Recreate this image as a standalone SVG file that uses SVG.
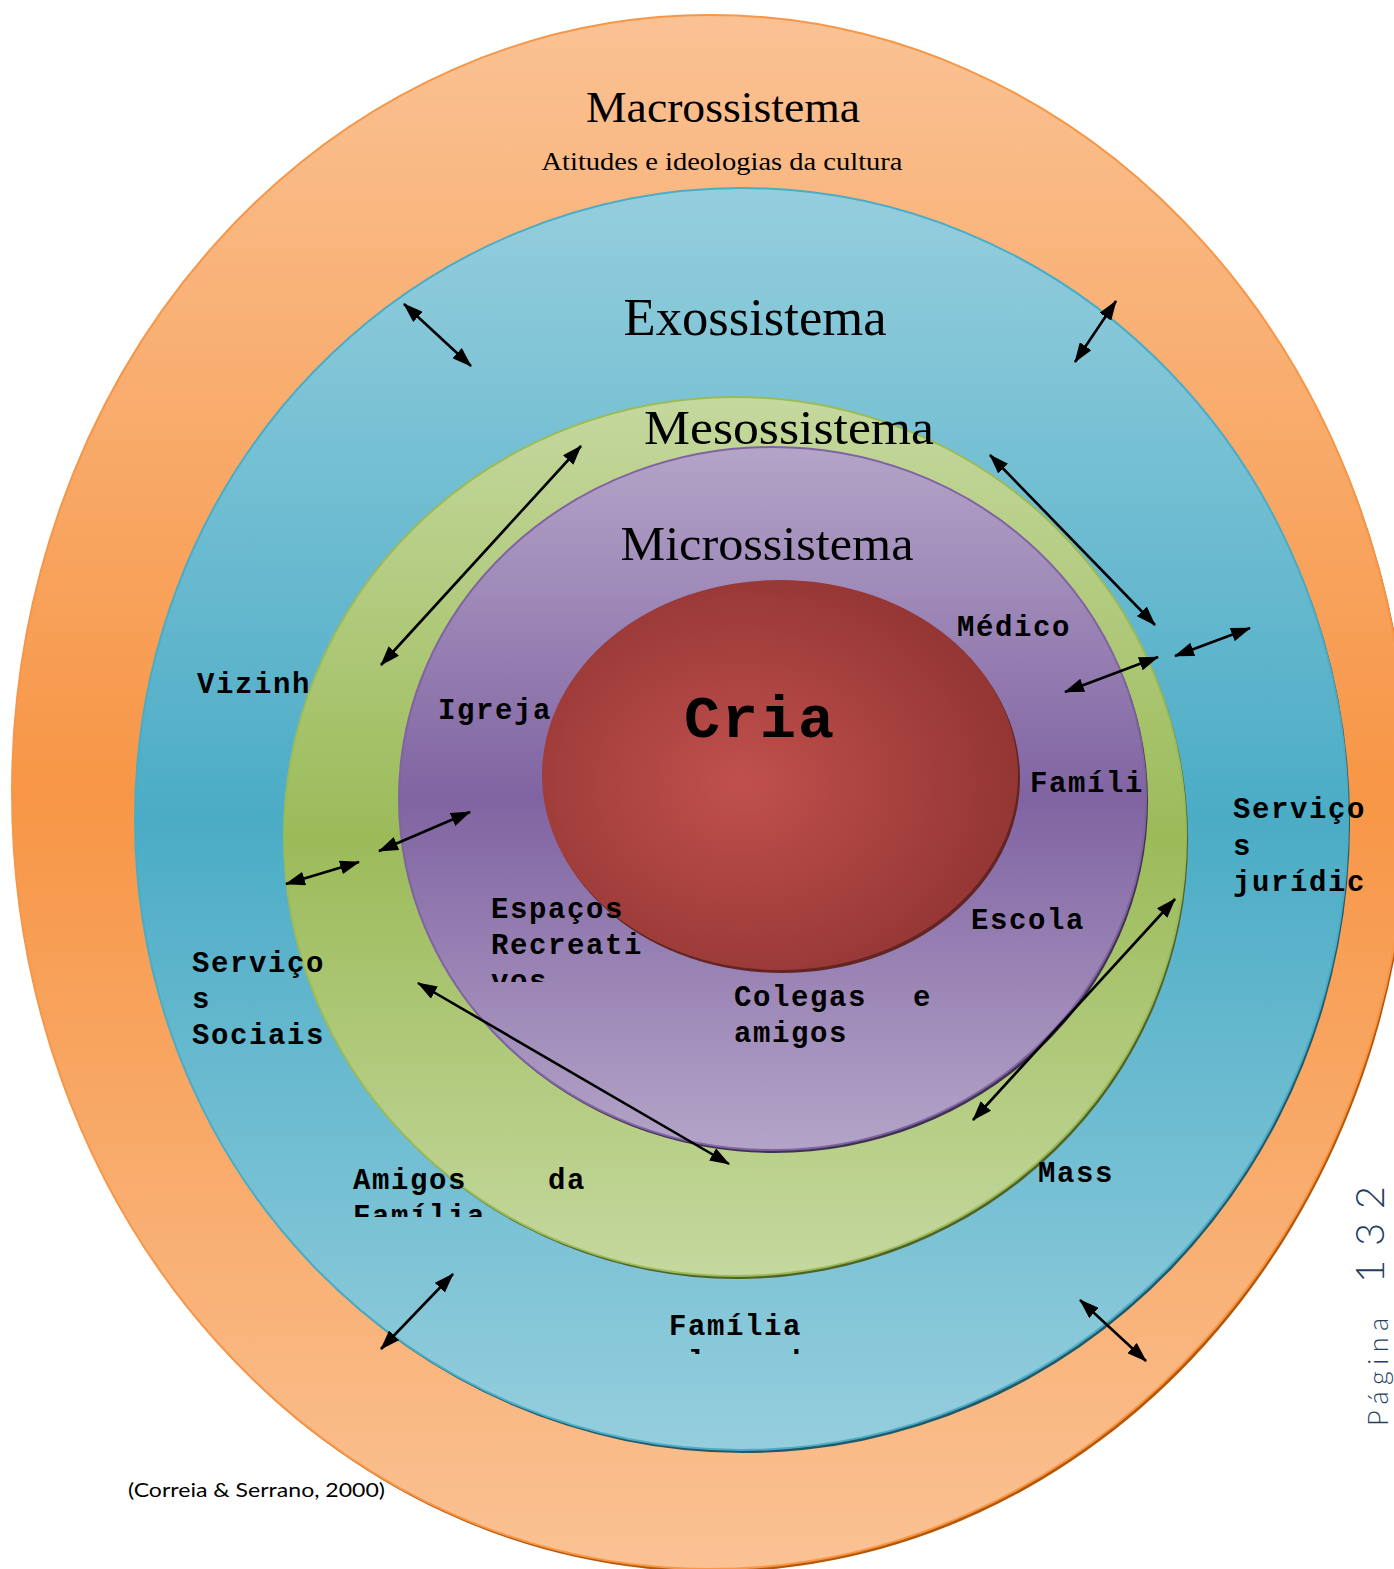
<svg xmlns="http://www.w3.org/2000/svg" width="1394" height="1569" viewBox="0 0 1394 1569">
<defs>
<linearGradient id="gOrange" x1="0" y1="0" x2="0" y2="1"><stop offset="0" stop-color="#FAC294"/><stop offset="0.5" stop-color="#F79646"/><stop offset="1" stop-color="#FAC294"/></linearGradient>
<linearGradient id="gBlue" x1="0" y1="0" x2="0" y2="1"><stop offset="0" stop-color="#95CEDD"/><stop offset="0.5" stop-color="#4BACC6"/><stop offset="1" stop-color="#95CEDD"/></linearGradient>
<linearGradient id="gGreen" x1="0" y1="0" x2="0" y2="1"><stop offset="0" stop-color="#C5D89E"/><stop offset="0.5" stop-color="#9BBB59"/><stop offset="1" stop-color="#C5D89E"/></linearGradient>
<linearGradient id="gPurple" x1="0" y1="0" x2="0" y2="1"><stop offset="0" stop-color="#B4A4C8"/><stop offset="0.5" stop-color="#8064A2"/><stop offset="1" stop-color="#B4A4C8"/></linearGradient>
<radialGradient id="gRed" cx="0.42" cy="0.52" r="0.6"><stop offset="0" stop-color="#C0504D"/><stop offset="1" stop-color="#923533"/></radialGradient>
<marker id="ah" markerUnits="userSpaceOnUse" viewBox="0 0 20 14" refX="19" refY="7" markerWidth="20" markerHeight="14" orient="auto-start-reverse"><path d="M0,0 L20,7 L0,14 z" fill="#000"/></marker>
<clipPath id="clipVos"><rect x="480" y="880" width="200" height="102"/></clipPath>
<clipPath id="clipFam"><rect x="340" y="1150" width="300" height="67"/></clipPath>
<clipPath id="clipAlarg"><rect x="650" y="1300" width="200" height="54"/></clipPath>
</defs>
<style>
.title{font-family:"Liberation Serif","DejaVu Serif",serif;fill:#000;}
.lbl{font-family:"Liberation Mono","DejaVu Sans Mono",monospace;font-weight:bold;font-size:29px;letter-spacing:1.6px;fill:#000;}
.conn{stroke:#000;stroke-width:2.6;fill:none;marker-start:url(#ah);marker-end:url(#ah);}
.page{font-family:Lato,"Liberation Sans",sans-serif;font-weight:300;fill:#243F60;}
</style>
<rect width="1394" height="1569" fill="#FFFFFF"/>
<g id="macrossistema">
<ellipse cx="712" cy="795" rx="698" ry="777" fill="#B65708"/>
<ellipse cx="710" cy="792" rx="698" ry="777" fill="url(#gOrange)" stroke="#F79646" stroke-width="2"/>
<text class="title" x="723" y="122" font-size="44" text-anchor="middle" textLength="274" lengthAdjust="spacingAndGlyphs">Macrossistema</text>
<text class="title" x="722" y="170" font-size="26" text-anchor="middle" textLength="361" lengthAdjust="spacingAndGlyphs">Atitudes e ideologias da cultura</text>
</g>
<g id="exossistema">
<ellipse cx="743.5" cy="822" rx="606.5" ry="631" fill="#215968"/>
<ellipse cx="741.5" cy="819" rx="606.5" ry="631" fill="url(#gBlue)" stroke="#4BACC6" stroke-width="2"/>
<text class="title" x="755" y="335" font-size="52" text-anchor="middle" textLength="263" lengthAdjust="spacingAndGlyphs">Exossistema</text>
</g>
<g id="mesossistema">
<ellipse cx="737" cy="839.5" rx="451" ry="439.5" fill="#4F6228"/>
<ellipse cx="735" cy="836.5" rx="451" ry="439.5" fill="url(#gGreen)" stroke="#9BBB59" stroke-width="2"/>
<text class="title" x="789" y="444" font-size="48" text-anchor="middle" textLength="290" lengthAdjust="spacingAndGlyphs">Mesossistema</text>
</g>
<g id="microssistema">
<ellipse cx="774.5" cy="801.5" rx="373.5" ry="351.5" fill="#3F3151"/>
<ellipse cx="772.5" cy="798.5" rx="373.5" ry="351.5" fill="url(#gPurple)" stroke="#8064A2" stroke-width="2"/>
<text class="title" x="767" y="560" font-size="48" text-anchor="middle" textLength="293" lengthAdjust="spacingAndGlyphs">Microssistema</text>
</g>
<g id="crianca">
<ellipse cx="782" cy="778" rx="238" ry="195" fill="#632423"/>
<ellipse cx="780" cy="775" rx="238" ry="195" fill="url(#gRed)"/>
<text x="684" y="737" font-family="Liberation Mono, DejaVu Sans Mono, monospace" font-weight="bold" font-size="60" letter-spacing="2">Cria</text>
</g>
<g id="labels">
<text class="lbl" x="197" y="693">Vizinh</text>
<text class="lbl" x="438" y="719">Igreja</text>
<text class="lbl" x="957" y="636">Médico</text>
<text class="lbl" x="1030" y="792">Famíli</text>
<text class="lbl" x="971" y="929">Escola</text>
<g clip-path="url(#clipVos)">
<text class="lbl" x="491" y="918">Espaços</text>
<text class="lbl" x="491" y="954">Recreati</text>
<text class="lbl" x="491" y="990">vos</text>
</g>
<text class="lbl" x="734" y="1006">Colegas</text>
<text class="lbl" x="913" y="1006">e</text>
<text class="lbl" x="734" y="1042">amigos</text>
<text class="lbl" x="192" y="972">Serviço</text>
<text class="lbl" x="192" y="1008">s</text>
<text class="lbl" x="192" y="1044">Sociais</text>
<g clip-path="url(#clipFam)">
<text class="lbl" x="353" y="1189">Amigos</text>
<text class="lbl" x="548" y="1189">da</text>
<text class="lbl" x="353" y="1225">Família</text>
</g>
<text class="lbl" x="1038" y="1182">Mass</text>
<g clip-path="url(#clipAlarg)">
<text class="lbl" x="669" y="1335">Família</text>
<text class="lbl" x="669" y="1371">alargada</text>
</g>
<text class="lbl" x="1233" y="818">Serviço</text>
<text class="lbl" x="1233" y="855">s</text>
<text class="lbl" x="1233" y="891">jurídic</text>
</g>
<g id="connectors">
<line class="conn" x1="404" y1="304" x2="471" y2="366"/>
<line class="conn" x1="1116" y1="301" x2="1075" y2="362"/>
<line class="conn" x1="581" y1="446" x2="381" y2="665"/>
<line class="conn" x1="990" y1="455" x2="1155" y2="625"/>
<line class="conn" x1="1250" y1="628" x2="1175" y2="656"/>
<line class="conn" x1="1158" y1="657" x2="1065" y2="692"/>
<line class="conn" x1="470" y1="812" x2="379" y2="851"/>
<line class="conn" x1="359" y1="862" x2="286" y2="884"/>
<line class="conn" x1="418" y1="983" x2="729" y2="1164"/>
<line class="conn" x1="1175" y1="899" x2="973" y2="1120"/>
<line class="conn" x1="453" y1="1274" x2="381" y2="1349"/>
<line class="conn" x1="1080" y1="1300" x2="1146" y2="1361"/>
</g>
<g id="footer">
<text x="128" y="1497" font-family="Lato, Liberation Sans, sans-serif" font-size="20" fill="#000" textLength="257" lengthAdjust="spacingAndGlyphs">(Correia &amp; Serrano, 2000)</text>
<text class="page" transform="translate(1384,1283) rotate(-90)" font-size="40" textLength="97" lengthAdjust="spacing">132</text>
<text class="page" transform="translate(1388,1426) rotate(-90)" font-size="27" textLength="108" lengthAdjust="spacing">Página</text>
</g>
</svg>
